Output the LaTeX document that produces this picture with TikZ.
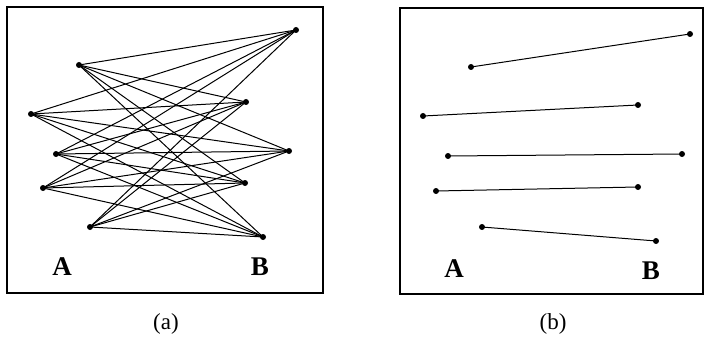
\documentclass[tikz,border=0pt]{standalone}
\usepackage{fontspec}
\setmainfont{Liberation Serif}
\begin{document}
\begin{tikzpicture}[x=1pt,y=-1pt,
  dot/.style={circle,fill=black,inner sep=0pt,minimum size=6pt},
  edge/.style={line width=1pt},
  frame/.style={line width=1.6pt},
  lbl/.style={font=\fontsize{27}{29}\selectfont\bfseries},
  captext/.style={font=\fontsize{23}{25}\selectfont}]
\useasboundingbox (0,0) rectangle (705,345);
% panel (a)
\draw[frame] (7,7) rectangle (323,293);
\node[dot] (a1) at (79,65) {};
\node[dot] (a2) at (31,114) {};
\node[dot] (a3) at (56,154) {};
\node[dot] (a4) at (43,188) {};
\node[dot] (a5) at (90,227) {};
\node[dot] (b1) at (296,30) {};
\node[dot] (b2) at (246,102) {};
\node[dot] (b3) at (289,151) {};
\node[dot] (b4) at (245,183) {};
\node[dot] (b5) at (263,237) {};
\foreach \i in {1,...,5}{\foreach \j in {1,...,5}{\draw[edge] (a\i.center) -- (b\j.center);}}
\node[lbl] (la) at (62,267) {A};
\node[lbl] (lb) at (260,267) {B};
\node[captext] (ca) at (166,324) {(a)};
% panel (b)
\draw[frame] (400,8) rectangle (703,294);
\node[dot] (c1) at (471,67) {};
\node[dot] (c2) at (423,116) {};
\node[dot] (c3) at (448,156) {};
\node[dot] (c4) at (436,191) {};
\node[dot] (c5) at (482,227) {};
\node[dot] (d1) at (690,34) {};
\node[dot] (d2) at (638,105) {};
\node[dot] (d3) at (682,154) {};
\node[dot] (d4) at (638,187) {};
\node[dot] (d5) at (656,241) {};
\foreach \i in {1,...,5}{\draw[edge] (c\i.center) -- (d\i.center);}
\node[lbl] (lc) at (454,269) {A};
\node[lbl] (ld) at (651,271) {B};
\node[captext] (cb) at (553,324) {(b)};
\end{tikzpicture}
\end{document}
